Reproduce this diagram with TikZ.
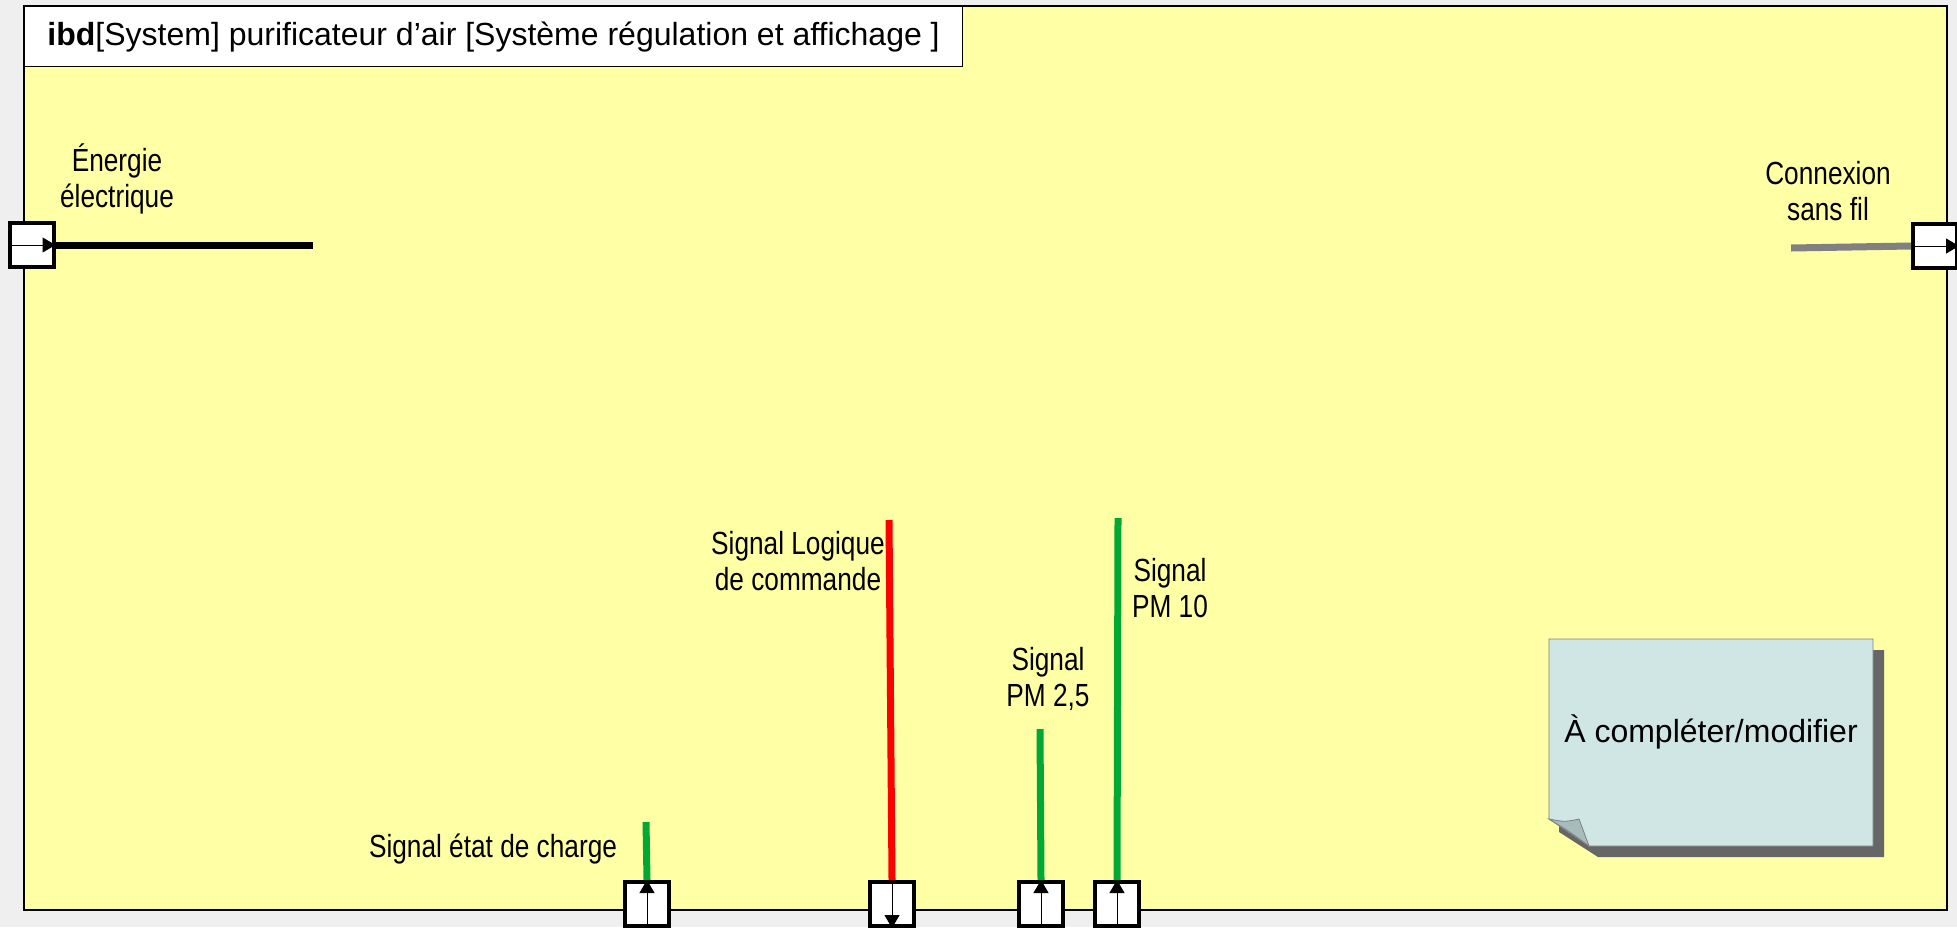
\documentclass[tikz,border=0pt]{standalone}
\usepackage{fontspec}
\setmainfont{Liberation Sans}
\newfontfamily\narrowfont[FakeStretch=0.82]{Liberation Sans}
\usepackage{xcolor}
\usetikzlibrary{arrows.meta, positioning}
\definecolor{ibdyellow}{RGB}{255,255,166}
\definecolor{flowgreen}{RGB}{0,169,51}
\definecolor{notecyan}{RGB}{207,230,228}
\definecolor{notecurl}{RGB}{166,188,186}
\definecolor{pagegrey}{RGB}{239,239,239}

\begin{document}
\begin{tikzpicture}[x=0.5pt, y=-0.5pt,
    port/.style={draw, line width=2pt, fill=white, minimum size=22pt, inner sep=0pt},
    flow/.style={line width=3.5pt},
    lbl/.style={font=\fontsize{16}{18}\narrowfont, align=center, inner sep=0pt},
    portarrow/.style={line width=0.5pt, -{Triangle[length=6.5pt, width=7.5pt]}},
    titlebox/.style={draw, fill=white, line width=0.6pt, anchor=north west, minimum width=469pt, minimum height=30pt, inner sep=0pt, font=\fontsize{16}{19}\selectfont}
]

\fill[pagegrey] (0,0) rectangle (1957,927);
\useasboundingbox (0,0) rectangle (1957,927);
\draw[fill=ibdyellow, line width=0.6pt] (24,6) rectangle (1947,910);
\node[titlebox] (title) at (24,6) {\textbf{ibd}[System] purificateur d’air [Système régulation et affichage ]};

% ports
\node[port] (pEnergie) at (31.5,245) {};
\node[port] (pSansFil) at (1935,246) {};
\node[port] (pCharge) at (647,904) {};
\node[port] (pCmd) at (892,904) {};
\node[port] (pPM25) at (1041,904) {};
\node[port] (pPM10) at (1117,904) {};

\draw[portarrow] (pEnergie.west) -- (pEnergie.east);
\draw[portarrow] (pSansFil.west) -- (pSansFil.east);
\draw[portarrow] (pCharge.south) -- (pCharge.north);
\draw[portarrow] (pCmd.north) -- (pCmd.south);
\draw[portarrow] (pPM25.south) -- (pPM25.north);
\draw[portarrow] (pPM10.south) -- (pPM10.north);

% free ends
\coordinate (eEnergie) at (313,245);
\coordinate (eSansFil) at (1791,248);
\coordinate (eCharge) at (646,822);
\coordinate (eCmd) at (889,520);
\coordinate (ePM25) at (1040,729);
\coordinate (ePM10) at (1118,518);

\draw[flow] (pEnergie.east) -- (eEnergie);
\draw[flow, gray] (eSansFil) -- (pSansFil.west);
\draw[flow, flowgreen] (eCharge) -- (pCharge.north);
\draw[flow, red] (eCmd) -- (pCmd.north);
\draw[flow, flowgreen] (ePM25) -- (pPM25.north);
\draw[flow, flowgreen] (ePM10) -- (pPM10.north);

% labels
\node[lbl] (lEnergie) at (117,179) {Énergie\\électrique};
\node[lbl] (lSansFil) at (1828,191) {Connexion\\sans fil};
\node[lbl] (lCmd) at (798,561) {Signal Logique\\de commande};
\node[lbl] (lPM10) at (1170,588) {Signal\\PM 10};
\node[lbl] (lPM25) at (1048,679) {Signal\\PM 2,5};
\node[lbl] (lCharge) at (493,849) {Signal état de charge};

% note
\fill[black!60] (1560,650) -- (1884,650) -- (1884,857) -- (1598,857) -- (1559,832) -- cycle;
\draw[gray, line width=0.4pt, fill=notecyan] (1549,639) -- (1873,639) -- (1873,846) -- (1589,846) -- (1549,819) -- cycle;
\draw[gray, line width=0.4pt, fill=notecurl] (1549,819) .. controls (1565,822) .. (1579,819) -- (1589,846) .. controls (1570,832) .. cycle;
\node[font=\fontsize{16}{19}\selectfont] (note) at (1711,732) {À compléter/modifier};

\end{tikzpicture}
\end{document}
